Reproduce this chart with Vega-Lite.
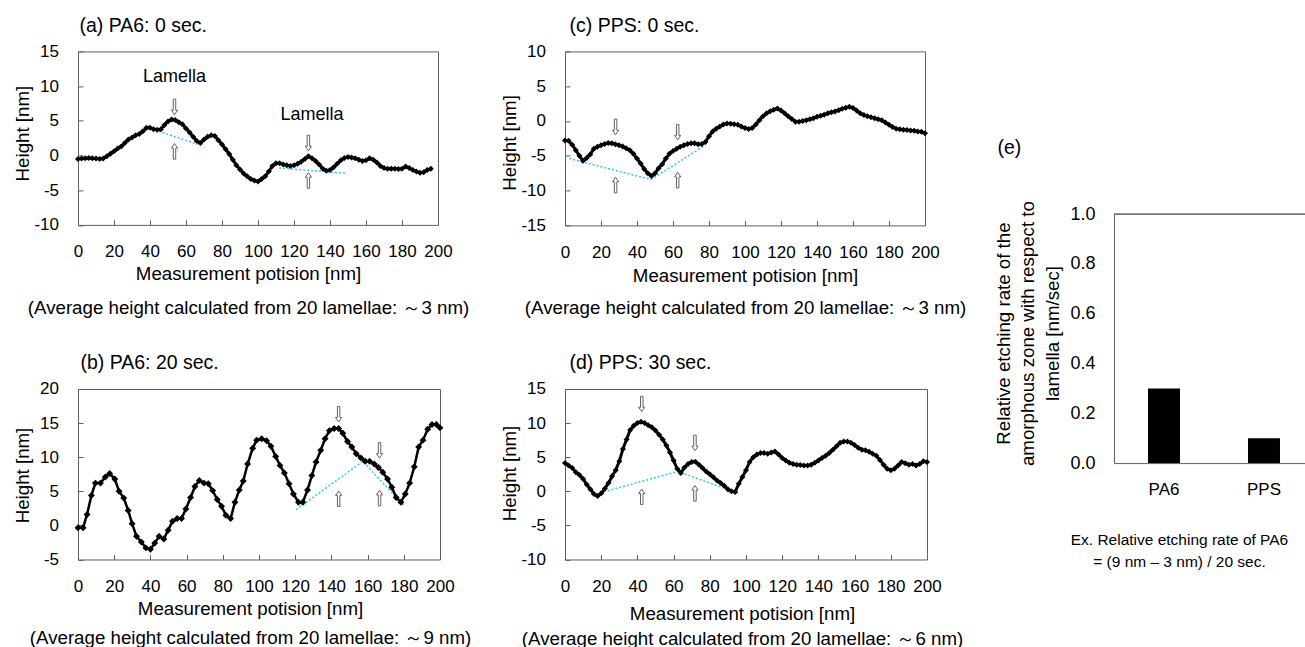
{
  "$schema": "https://vega.github.io/schema/vega-lite/v6.json",
  "background": "white",
  "padding": {"left": 12, "top": 14.4, "right": 0, "bottom": 0},
  "config": {
    "font": "Liberation Sans",
    "view": {"stroke": "#5f5f5f", "strokeWidth": 1},
    "axis": {"grid": false, "domain": false, "tickColor": "#5f5f5f", "tickSize": -5, "tickWidth": 1, "labelFontSize": 17, "labelColor": "black", "titleFontSize": 18.7, "titleFontWeight": "normal", "titleColor": "black", "labelPadding": 24, "labelFlush": false, "labelOverlap": false, "labelFont": "Liberation Sans", "titleFont": "Liberation Sans"},
    "axisY": {"labelPadding": 24.5},
    "title": {"fontSize": 19.5, "fontWeight": "normal", "anchor": "start", "frame": "group", "color": "black", "baseline": "alphabetic", "font": "Liberation Sans"}
  },
  "spacing": 27,
  "hconcat": [
    {
      "spacing": 33.6,
      "vconcat": [
        {
          "width": 360, "height": 173.5,
          "title": {"text": "(a) PA6: 0 sec.", "offset": 6.1, "dx": 1.5},
          "encoding": {
            "x": {"field": "pos", "type": "quantitative", "scale": {"domain": [0, 200], "nice": false, "zero": false},
              "axis": {"values": [0,20,40,60,80,100,120,140,160,180,200], "title": ["Measurement potision [nm]", "(Average height calculated from 20 lamellae: ～3 nm)"], "titleX": 170, "titleY": 54.5, "titleAlign": "center", "titleBaseline": "alphabetic", "titleLineHeight": 34}},
            "y": {"field": "h", "type": "quantitative", "scale": {"domain": [-10, 15], "nice": false, "zero": false},
              "axis": {"values": [-10,-5,0,5,10,15], "labelExpr": "toString(datum.value)", "title": "Height [nm]", "titleX": -56, "titleY": 81.7, "titleBaseline": "middle", "titleAlign": "center"}}
          },
          "layer": [
            {
              "data": {"values": [
                {"seg": 1, "pos": 44.8, "h": 3.5}, {"seg": 1, "pos": 66.6, "h": 1.6},
                {"seg": 2, "pos": 111.8, "h": -1.8}, {"seg": 2, "pos": 148.5, "h": -2.55}
              ]},
              "mark": {"type": "line", "color": "#2ec8e8", "strokeDash": [2, 2], "strokeWidth": 1.5},
              "encoding": {"detail": {"field": "seg"}}
            },
            {
              "data": {"values": [
                {"pos":0,"h":-0.5},{"pos":2,"h":-0.45},{"pos":4,"h":-0.4},{"pos":6,"h":-0.35},{"pos":8,"h":-0.4},{"pos":10,"h":-0.45},{"pos":12,"h":-0.5},{"pos":14,"h":-0.45},{"pos":16,"h":-0.1},{"pos":18,"h":0.25},
                {"pos":20,"h":0.6},{"pos":22,"h":1.0},{"pos":24,"h":1.3},{"pos":26,"h":1.8},{"pos":28,"h":2.3},{"pos":30,"h":2.6},{"pos":32,"h":2.9},{"pos":34,"h":3.1},{"pos":36,"h":3.5},{"pos":38,"h":4.0},
                {"pos":40,"h":4.0},{"pos":42,"h":3.8},{"pos":44,"h":3.7},{"pos":46,"h":3.8},{"pos":48,"h":4.4},{"pos":50,"h":4.9},{"pos":52,"h":5.2},{"pos":54,"h":5.1},{"pos":56,"h":4.8},{"pos":58,"h":4.5},
                {"pos":60,"h":3.9},{"pos":62,"h":3.3},{"pos":64,"h":2.7},{"pos":66,"h":2.1},{"pos":68,"h":1.8},{"pos":70,"h":2.3},{"pos":72,"h":2.7},{"pos":74,"h":2.9},{"pos":76,"h":2.8},{"pos":78,"h":2.2},
                {"pos":80,"h":1.6},{"pos":82,"h":0.9},{"pos":84,"h":0.2},{"pos":86,"h":-0.6},{"pos":88,"h":-1.4},{"pos":90,"h":-2.0},{"pos":92,"h":-2.6},{"pos":94,"h":-3.0},{"pos":96,"h":-3.4},{"pos":98,"h":-3.6},
                {"pos":100,"h":-3.75},{"pos":102,"h":-3.4},{"pos":104,"h":-3.0},{"pos":106,"h":-2.3},{"pos":108,"h":-1.5},{"pos":110,"h":-1.1},{"pos":112,"h":-1.1},{"pos":114,"h":-1.3},{"pos":116,"h":-1.4},{"pos":118,"h":-1.5},
                {"pos":120,"h":-1.4},{"pos":122,"h":-1.2},{"pos":124,"h":-0.9},{"pos":126,"h":-0.5},{"pos":128,"h":-0.1},{"pos":130,"h":-0.4},{"pos":132,"h":-0.8},{"pos":134,"h":-1.3},{"pos":136,"h":-1.9},{"pos":138,"h":-2.2},
                {"pos":140,"h":-2.1},{"pos":142,"h":-1.7},{"pos":144,"h":-1.2},{"pos":146,"h":-0.7},{"pos":148,"h":-0.35},{"pos":150,"h":-0.2},{"pos":152,"h":-0.3},{"pos":154,"h":-0.4},{"pos":156,"h":-0.6},{"pos":158,"h":-0.8},
                {"pos":160,"h":-0.7},{"pos":162,"h":-0.4},{"pos":164,"h":-0.6},{"pos":166,"h":-1.0},{"pos":168,"h":-1.5},{"pos":170,"h":-1.8},{"pos":172,"h":-1.9},{"pos":174,"h":-1.9},{"pos":176,"h":-1.9},{"pos":178,"h":-1.95},
                {"pos":180,"h":-1.9},{"pos":182,"h":-1.6},{"pos":184,"h":-1.8},{"pos":186,"h":-2.1},{"pos":188,"h":-2.3},{"pos":190,"h":-2.5},{"pos":192,"h":-2.4},{"pos":194,"h":-2.1},{"pos":196,"h":-1.9}
              ]},
              "mark": {"type": "line", "color": "black", "strokeWidth": 3, "point": {"filled": true, "shape": "diamond", "size": 36, "color": "black", "opacity": 1}}
            },
            {
              "data": {"values": [
                {"dir": "down", "pos": 53.6, "h": 7.0}, {"dir": "up", "pos": 53.6, "h": 0.6},
                {"dir": "down", "pos": 128, "h": 1.8}, {"dir": "up", "pos": 128, "h": -3.6}
              ]},
              "mark": {"type": "point", "filled": true, "fill": "white", "stroke": "#606060", "strokeWidth": 1, "size": 240, "opacity": 1},
              "encoding": {"shape": {"field": "dir", "type": "nominal", "legend": null, "scale": {"domain": ["down", "up"], "range": ["M-0.16,-1L0.16,-1L0.16,0.42L0.4,0.42L0,1L-0.4,0.42L-0.16,0.42Z", "M-0.16,1L0.16,1L0.16,-0.42L0.4,-0.42L0,-1L-0.4,-0.42L-0.16,-0.42Z"]}}}
            },
            {
              "data": {"values": [
                {"label": "Lamella", "pos": 53.6, "h": 11.3}, {"label": "Lamella", "pos": 130, "h": 5.9}
              ]},
              "mark": {"type": "text", "fontSize": 18, "font": "Liberation Sans", "color": "black"},
              "encoding": {"text": {"field": "label"}}
            }
          ]
        },
        {
          "width": 362, "height": 170.5,
          "title": {"text": "(b) PA6: 20 sec.", "offset": 6.8, "dx": 2.5},
          "encoding": {
            "x": {"field": "pos", "type": "quantitative", "scale": {"domain": [0, 200], "nice": false, "zero": false},
              "axis": {"values": [0,20,40,60,80,100,120,140,160,180,200], "title": ["Measurement potision [nm]", "(Average height calculated from 20 lamellae: ～9 nm)"], "titleX": 172, "titleY": 55.5, "titleAlign": "center", "titleBaseline": "alphabetic", "titleLineHeight": 29}},
            "y": {"field": "h", "type": "quantitative", "scale": {"domain": [-5, 20], "nice": false, "zero": false},
              "axis": {"values": [-5,0,5,10,15,20], "labelExpr": "toString(datum.value)", "title": "Height [nm]", "titleX": -56, "titleY": 86, "titleBaseline": "middle", "titleAlign": "center"}}
          },
          "layer": [
            {
              "data": {"values": [
                {"seg": 1, "pos": 120.5, "h": 2.3}, {"seg": 1, "pos": 157.4, "h": 9.4}, {"seg": 1, "pos": 180.4, "h": 2.8}
              ]},
              "mark": {"type": "line", "color": "#2ec8e8", "strokeDash": [2, 2], "strokeWidth": 1.5},
              "encoding": {"detail": {"field": "seg"}}
            },
            {
              "data": {"values": [
                {"pos":0,"h":-0.35},{"pos":2.8,"h":-0.35},{"pos":5,"h":1.6},{"pos":7.4,"h":4.4},{"pos":9.6,"h":6.2},{"pos":12.4,"h":6.2},{"pos":15.1,"h":7.1},{"pos":17.5,"h":7.6},{"pos":20.3,"h":6.8},{"pos":22.7,"h":5.0},
                {"pos":25.3,"h":4.0},{"pos":27.7,"h":2.2},{"pos":29.9,"h":0.25},{"pos":32.3,"h":-1.6},{"pos":35,"h":-2.45},{"pos":37.5,"h":-3.3},{"pos":40,"h":-3.5},{"pos":42.4,"h":-2.6},{"pos":44.8,"h":-1.6},{"pos":47.4,"h":-2.0},
                {"pos":49.8,"h":-0.7},{"pos":52.2,"h":0.6},{"pos":54.8,"h":1.0},{"pos":57.2,"h":1.0},{"pos":59.6,"h":2.4},{"pos":62.2,"h":4.1},{"pos":64.6,"h":5.7},{"pos":67,"h":6.6},{"pos":69.6,"h":6.2},{"pos":72,"h":6.1},
                {"pos":74.4,"h":5.1},{"pos":76.9,"h":3.8},{"pos":79.3,"h":2.8},{"pos":81.7,"h":1.5},{"pos":84.3,"h":1.0},{"pos":86.7,"h":3.4},{"pos":89.1,"h":5.2},{"pos":91.3,"h":6.5},{"pos":93.7,"h":9.0},{"pos":96.5,"h":11.3},
                {"pos":98.7,"h":12.5},{"pos":101.5,"h":12.7},{"pos":104.2,"h":12.4},{"pos":106.6,"h":11.6},{"pos":109.2,"h":10.1},{"pos":111.6,"h":8.8},{"pos":114,"h":7.7},{"pos":116.6,"h":6.1},{"pos":119,"h":4.6},{"pos":121.8,"h":3.4},
                {"pos":124.2,"h":3.4},{"pos":126.8,"h":5.2},{"pos":129.2,"h":7.3},{"pos":131.5,"h":9.3},{"pos":134.1,"h":11.0},{"pos":136.5,"h":12.7},{"pos":138.9,"h":13.9},{"pos":141.5,"h":14.2},{"pos":144,"h":14.2},{"pos":146.3,"h":13.5},
                {"pos":148.9,"h":12.3},{"pos":151.3,"h":11.5},{"pos":153.7,"h":10.5},{"pos":156.3,"h":9.9},{"pos":158.7,"h":9.4},{"pos":161.1,"h":9.4},{"pos":163.7,"h":9.0},{"pos":166,"h":8.5},{"pos":168.4,"h":7.8},{"pos":171,"h":6.8},
                {"pos":173.4,"h":5.6},{"pos":175.8,"h":4.1},{"pos":178.4,"h":3.4},{"pos":180.8,"h":4.6},{"pos":183.2,"h":6.2},{"pos":185.8,"h":8.6},{"pos":188.2,"h":11.5},{"pos":190.6,"h":12.5},{"pos":193.2,"h":14.1},{"pos":195.6,"h":14.8},
                {"pos":198,"h":14.8},{"pos":200,"h":14.3}
              ]},
              "mark": {"type": "line", "color": "black", "strokeWidth": 2.5, "point": {"filled": true, "shape": "diamond", "size": 48, "color": "black", "opacity": 1}}
            },
            {
              "data": {"values": [
                {"dir": "down", "pos": 144, "h": 16.3}, {"dir": "up", "pos": 144, "h": 3.9},
                {"dir": "down", "pos": 166.6, "h": 11.0}, {"dir": "up", "pos": 166.6, "h": 4.0}
              ]},
              "mark": {"type": "point", "filled": true, "fill": "white", "stroke": "#606060", "strokeWidth": 1, "size": 240, "opacity": 1},
              "encoding": {"shape": {"field": "dir", "type": "nominal", "legend": null, "scale": {"domain": ["down", "up"], "range": ["M-0.16,-1L0.16,-1L0.16,0.42L0.4,0.42L0,1L-0.4,0.42L-0.16,0.42Z", "M-0.16,1L0.16,1L0.16,-0.42L0.4,-0.42L0,-1L-0.4,-0.42L-0.16,-0.42Z"]}}}
            }
          ]
        }
      ]
    },
    {
      "spacing": 33.6,
      "vconcat": [
        {
          "width": 360, "height": 174,
          "title": {"text": "(c) PPS: 0 sec.", "offset": 6.1, "dx": 4.5},
          "encoding": {
            "x": {"field": "pos", "type": "quantitative", "scale": {"domain": [0, 200], "nice": false, "zero": false},
              "axis": {"values": [0,20,40,60,80,100,120,140,160,180,200], "title": ["Measurement potision [nm]", "(Average height calculated from 20 lamellae: ～3 nm)"], "titleX": 180, "titleY": 56, "titleAlign": "center", "titleBaseline": "alphabetic", "titleLineHeight": 32}},
            "y": {"field": "h", "type": "quantitative", "scale": {"domain": [-15, 10], "nice": false, "zero": false},
              "axis": {"values": [-15,-10,-5,0,5,10], "labelExpr": "toString(datum.value)", "title": "Height [nm]", "titleX": -56, "titleY": 91, "titleBaseline": "middle", "titleAlign": "center"}}
          },
          "layer": [
            {
              "data": {"values": [
                {"seg": 1, "pos": 2.4, "h": -5.4}, {"seg": 1, "pos": 47.8, "h": -8.4}, {"seg": 1, "pos": 77.8, "h": -3.5}
              ]},
              "mark": {"type": "line", "color": "#2ec8e8", "strokeDash": [2, 2], "strokeWidth": 1.5},
              "encoding": {"detail": {"field": "seg"}}
            },
            {
              "data": {"values": [
                {"pos":0,"h":-2.8},{"pos":2,"h":-2.85},{"pos":4,"h":-3.4},{"pos":6,"h":-4.2},{"pos":8,"h":-5.0},{"pos":10,"h":-5.7},{"pos":12,"h":-5.3},{"pos":14,"h":-4.8},{"pos":16,"h":-4.0},{"pos":18,"h":-3.7},
                {"pos":20,"h":-3.5},{"pos":22,"h":-3.3},{"pos":24,"h":-3.15},{"pos":26,"h":-3.2},{"pos":28,"h":-3.35},{"pos":30,"h":-3.5},{"pos":32,"h":-3.65},{"pos":34,"h":-3.9},{"pos":36,"h":-4.2},{"pos":38,"h":-4.7},
                {"pos":40,"h":-5.4},{"pos":42,"h":-6.1},{"pos":44,"h":-6.9},{"pos":46,"h":-7.5},{"pos":48,"h":-7.9},{"pos":50,"h":-7.5},{"pos":52,"h":-6.8},{"pos":54,"h":-6.2},{"pos":56,"h":-5.4},{"pos":58,"h":-4.7},
                {"pos":60,"h":-4.3},{"pos":62,"h":-4.0},{"pos":64,"h":-3.7},{"pos":66,"h":-3.5},{"pos":68,"h":-3.3},{"pos":70,"h":-3.2},{"pos":72,"h":-3.2},{"pos":74,"h":-3.35},{"pos":76,"h":-3.3},{"pos":78,"h":-3.0},
                {"pos":80,"h":-2.2},{"pos":82,"h":-1.5},{"pos":84,"h":-1.1},{"pos":86,"h":-0.8},{"pos":88,"h":-0.5},{"pos":90,"h":-0.35},{"pos":92,"h":-0.4},{"pos":94,"h":-0.45},{"pos":96,"h":-0.55},{"pos":98,"h":-0.8},
                {"pos":100,"h":-1.0},{"pos":102,"h":-1.15},{"pos":104,"h":-1.0},{"pos":106,"h":-0.5},{"pos":108,"h":0.1},{"pos":110,"h":0.7},{"pos":112,"h":1.1},{"pos":114,"h":1.4},{"pos":116,"h":1.6},{"pos":118,"h":1.8},
                {"pos":120,"h":1.5},{"pos":122,"h":1.1},{"pos":124,"h":0.7},{"pos":126,"h":0.3},{"pos":128,"h":-0.1},{"pos":130,"h":-0.1},{"pos":132,"h":0.0},{"pos":134,"h":0.1},{"pos":136,"h":0.25},{"pos":138,"h":0.4},
                {"pos":140,"h":0.6},{"pos":142,"h":0.75},{"pos":144,"h":0.9},{"pos":146,"h":1.1},{"pos":148,"h":1.25},{"pos":150,"h":1.35},{"pos":152,"h":1.55},{"pos":154,"h":1.75},{"pos":156,"h":1.9},{"pos":158,"h":2.05},
                {"pos":160,"h":1.85},{"pos":162,"h":1.5},{"pos":164,"h":1.1},{"pos":166,"h":0.85},{"pos":168,"h":0.7},{"pos":170,"h":0.55},{"pos":172,"h":0.4},{"pos":174,"h":0.25},{"pos":176,"h":0.1},{"pos":178,"h":-0.2},
                {"pos":180,"h":-0.55},{"pos":182,"h":-0.85},{"pos":184,"h":-1.1},{"pos":186,"h":-1.2},{"pos":188,"h":-1.25},{"pos":190,"h":-1.3},{"pos":192,"h":-1.35},{"pos":194,"h":-1.4},{"pos":196,"h":-1.5},{"pos":198,"h":-1.55},
                {"pos":200,"h":-1.75}
              ]},
              "mark": {"type": "line", "color": "black", "strokeWidth": 3, "point": {"filled": true, "shape": "diamond", "size": 36, "color": "black", "opacity": 1}}
            },
            {
              "data": {"values": [
                {"dir": "down", "pos": 28.1, "h": -0.86}, {"dir": "up", "pos": 28.1, "h": -9.2},
                {"dir": "down", "pos": 62.6, "h": -1.6}, {"dir": "up", "pos": 62.6, "h": -8.5}
              ]},
              "mark": {"type": "point", "filled": true, "fill": "white", "stroke": "#606060", "strokeWidth": 1, "size": 240, "opacity": 1},
              "encoding": {"shape": {"field": "dir", "type": "nominal", "legend": null, "scale": {"domain": ["down", "up"], "range": ["M-0.16,-1L0.16,-1L0.16,0.42L0.4,0.42L0,1L-0.4,0.42L-0.16,0.42Z", "M-0.16,1L0.16,1L0.16,-0.42L0.4,-0.42L0,-1L-0.4,-0.42L-0.16,-0.42Z"]}}}
            }
          ]
        },
        {
          "width": 362, "height": 170.5,
          "title": {"text": "(d) PPS: 30 sec.", "offset": 6.8, "dx": 4.5},
          "encoding": {
            "x": {"field": "pos", "type": "quantitative", "scale": {"domain": [0, 200], "nice": false, "zero": false},
              "axis": {"values": [0,20,40,60,80,100,120,140,160,180,200], "title": ["Measurement potision [nm]", "(Average height calculated from 20 lamellae: ～6 nm)"], "titleX": 177, "titleY": 60.2, "titleAlign": "center", "titleBaseline": "alphabetic", "titleLineHeight": 25}},
            "y": {"field": "h", "type": "quantitative", "scale": {"domain": [-10, 15], "nice": false, "zero": false},
              "axis": {"values": [-10,-5,0,5,10,15], "labelExpr": "toString(datum.value)", "title": "Height [nm]", "titleX": -56, "titleY": 84, "titleBaseline": "middle", "titleAlign": "center"}}
          },
          "layer": [
            {
              "data": {"values": [
                {"seg": 1, "pos": 19.3, "h": -0.24}, {"seg": 1, "pos": 62.2, "h": 2.9}, {"seg": 1, "pos": 95.4, "h": -0.24}
              ]},
              "mark": {"type": "line", "color": "#2ec8e8", "strokeDash": [2, 2], "strokeWidth": 1.5},
              "encoding": {"detail": {"field": "seg"}}
            },
            {
              "data": {"values": [
                {"pos":0,"h":4.15},{"pos":2,"h":3.8},{"pos":4,"h":3.4},{"pos":6,"h":2.8},{"pos":8,"h":2.4},{"pos":10,"h":1.8},{"pos":12,"h":1.0},{"pos":14,"h":0.3},{"pos":16,"h":-0.4},{"pos":18,"h":-0.7},
                {"pos":20,"h":-0.3},{"pos":22,"h":0.4},{"pos":24,"h":1.2},{"pos":26,"h":2.2},{"pos":28,"h":3.1},{"pos":30,"h":4.4},{"pos":32,"h":6.2},{"pos":34,"h":7.6},{"pos":36,"h":9.0},{"pos":38,"h":9.6},
                {"pos":40,"h":10.0},{"pos":42,"h":10.2},{"pos":44,"h":10.0},{"pos":46,"h":9.7},{"pos":48,"h":9.4},{"pos":50,"h":8.9},{"pos":52,"h":8.3},{"pos":54,"h":7.6},{"pos":56,"h":6.7},{"pos":58,"h":5.7},
                {"pos":60,"h":4.5},{"pos":62,"h":3.3},{"pos":64,"h":2.7},{"pos":66,"h":3.5},{"pos":68,"h":4.0},{"pos":70,"h":4.3},{"pos":72,"h":4.35},{"pos":74,"h":3.9},{"pos":76,"h":3.4},{"pos":78,"h":2.9},
                {"pos":80,"h":2.5},{"pos":82,"h":2.05},{"pos":84,"h":1.6},{"pos":86,"h":1.2},{"pos":88,"h":0.8},{"pos":90,"h":0.3},{"pos":92,"h":0.0},{"pos":94,"h":-0.1},{"pos":96,"h":1.1},{"pos":98,"h":2.1},
                {"pos":100,"h":3.1},{"pos":102,"h":4.3},{"pos":104,"h":5.0},{"pos":106,"h":5.4},{"pos":108,"h":5.6},{"pos":110,"h":5.6},{"pos":112,"h":5.5},{"pos":114,"h":5.7},{"pos":116,"h":5.85},{"pos":118,"h":5.4},
                {"pos":120,"h":4.9},{"pos":122,"h":4.5},{"pos":124,"h":4.2},{"pos":126,"h":4.0},{"pos":128,"h":3.9},{"pos":130,"h":3.85},{"pos":132,"h":3.8},{"pos":134,"h":3.8},{"pos":136,"h":3.9},{"pos":138,"h":4.2},
                {"pos":140,"h":4.5},{"pos":142,"h":4.9},{"pos":144,"h":5.2},{"pos":146,"h":5.6},{"pos":148,"h":6.1},{"pos":150,"h":6.6},{"pos":152,"h":7.1},{"pos":154,"h":7.3},{"pos":156,"h":7.3},{"pos":158,"h":7.1},
                {"pos":160,"h":6.8},{"pos":162,"h":6.4},{"pos":164,"h":6.1},{"pos":166,"h":6.0},{"pos":168,"h":5.8},{"pos":170,"h":5.5},{"pos":172,"h":5.2},{"pos":174,"h":4.6},{"pos":176,"h":3.9},{"pos":178,"h":3.3},
                {"pos":180,"h":3.1},{"pos":182,"h":3.3},{"pos":184,"h":3.8},{"pos":186,"h":4.3},{"pos":188,"h":4.1},{"pos":190,"h":3.9},{"pos":192,"h":4.0},{"pos":194,"h":3.8},{"pos":196,"h":4.0},{"pos":198,"h":4.4},
                {"pos":200,"h":4.3}
              ]},
              "mark": {"type": "line", "color": "black", "strokeWidth": 3, "point": {"filled": true, "shape": "diamond", "size": 36, "color": "black", "opacity": 1}}
            },
            {
              "data": {"values": [
                {"dir": "down", "pos": 42.4, "h": 12.8}, {"dir": "up", "pos": 42.4, "h": -0.8},
                {"dir": "down", "pos": 71.8, "h": 7.1}, {"dir": "up", "pos": 71.8, "h": -0.3}
              ]},
              "mark": {"type": "point", "filled": true, "fill": "white", "stroke": "#606060", "strokeWidth": 1, "size": 240, "opacity": 1},
              "encoding": {"shape": {"field": "dir", "type": "nominal", "legend": null, "scale": {"domain": ["down", "up"], "range": ["M-0.16,-1L0.16,-1L0.16,0.42L0.4,0.42L0,1L-0.4,0.42L-0.16,0.42Z", "M-0.16,1L0.16,1L0.16,-0.42L0.4,-0.42L0,-1L-0.4,-0.42L-0.16,-0.42Z"]}}}
            }
          ]
        }
      ]
    },
    {
      "width": 200, "height": 411.7,
      "view": {"stroke": null},
      "title": {"text": "(e)", "offset": -106.7, "dx": -116.5},
      "data": {"values": [{"material": "PA6", "rate": 0.3}, {"material": "PPS", "rate": 0.1}]},
      "encoding": {
        "x": {"field": "material", "type": "nominal", "sort": null, "scale": {"paddingInner": 0.68, "paddingOuter": 0.34},
          "axis": {"domain": true, "domainColor": "#5f5f5f", "ticks": false, "labelAngle": 0, "labelPadding": 18.7, "labelFontSize": 17,
            "title": ["Ex. Relative etching rate of PA6", "= (9 nm – 3 nm) / 20 sec."], "titleFontSize": 15.5, "titleX": 65, "titleY": 81, "titleAlign": "center", "titleBaseline": "alphabetic", "titleLineHeight": 22}},
        "y": {"field": "rate", "type": "quantitative", "scale": {"domain": [0, 1], "nice": false, "range": [411.7, 162.7]},
          "axis": {"domain": true, "domainColor": "#5f5f5f", "ticks": false, "values": [0, 0.2, 0.4, 0.6, 0.8, 1.0], "format": ".1f", "labelPadding": 19, "labelFontSize": 18,
            "title": ["Relative etching rate of the", "amorphous zone with respect to", "lamella [nm/sec]"], "titleX": -110.5, "titleY": 281.7, "titleBaseline": "middle", "titleAlign": "center", "titleLineHeight": 24.5}}
      },
      "layer": [
        {"mark": {"type": "bar", "color": "black"}},
        {"mark": {"type": "rule", "color": "#5f5f5f", "strokeWidth": 1}, "encoding": {"x": null, "y": {"datum": 1}}}
      ]
    }
  ]
}
